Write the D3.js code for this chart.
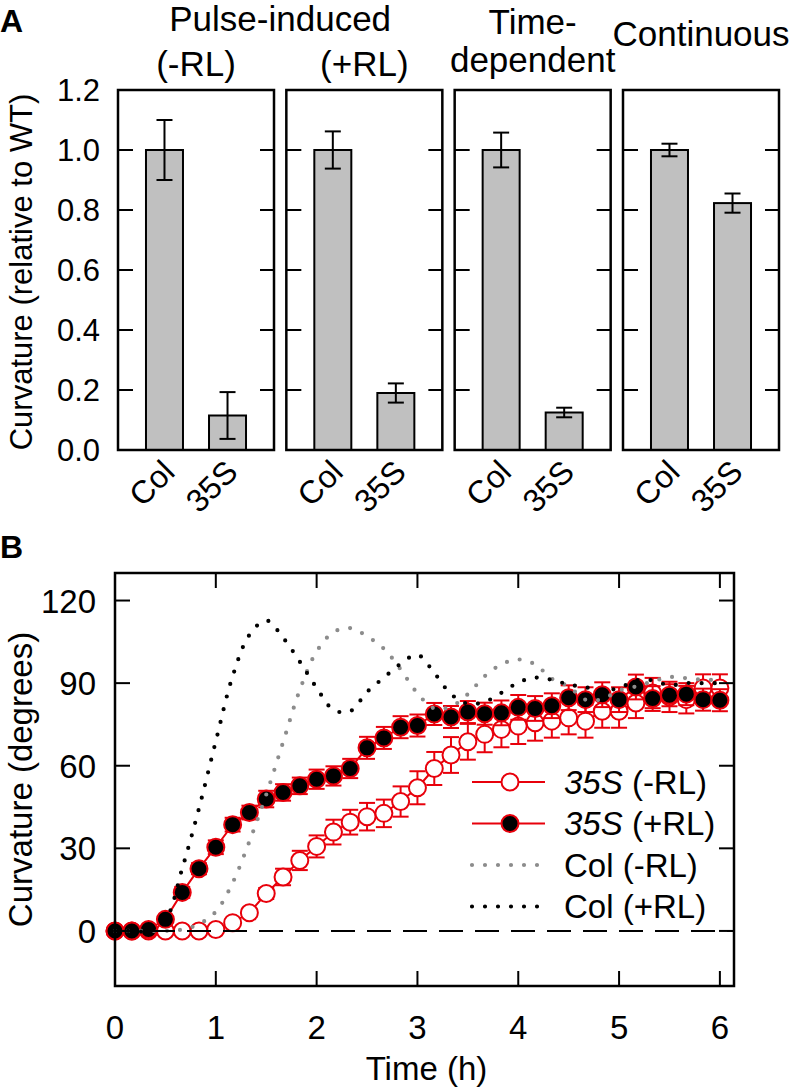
<!DOCTYPE html>
<html><head><meta charset="utf-8">
<script src="https://cdn.jsdelivr.net/npm/d3@7"></script>
<style>body{margin:0;background:#fff} text{font-family:"Liberation Sans",Arial,sans-serif;fill:#000}</style>
</head><body><svg id="c" width="797" height="1092"></svg>
<script>
// ---------- Panel A data ----------
const groups = ["Pulse-induced (-RL)", "Pulse-induced (+RL)", "Time-dependent", "Continuous"];
const genotypes = ["Col", "35S"];
const colMean = [1.0, 1.0, 1.0, 1.0];
const colErr = [0.10, 0.062, 0.058, 0.021];
const s35Mean = [0.115, 0.19, 0.125, 0.823];
const s35Err = [0.078, 0.032, 0.016, 0.032];
const yTicksA = [0.0, 0.2, 0.4, 0.6, 0.8, 1.0, 1.2];

// ---------- Panel B data ----------
const timeH = [0, 0.167, 0.333, 0.5, 0.667, 0.833, 1.0, 1.167, 1.333, 1.5, 1.667, 1.833, 2.0, 2.167, 2.333, 2.5, 2.667, 2.833, 3.0, 3.167, 3.333, 3.5, 3.667, 3.833, 4.0, 4.167, 4.333, 4.5, 4.667, 4.833, 5.0, 5.167, 5.333, 5.5, 5.667, 5.833, 6.0];
const s35MinusRL = [0, 0, 0, 0, 0, 0, 0.5, 3, 6.6, 13.6, 19.6, 25.6, 30.7, 35.9, 39.5, 41.5, 42.7, 47, 52, 59, 63.9, 68.7, 71.4, 73.2, 74.4, 75.6, 76.2, 77.4, 76.2, 79.8, 79.8, 82.8, 86.4, 85, 84, 88.2, 88.2];
const s35MinusRLErr = [0, 0, 0, 0, 0, 0, 0, 1, 1.5, 2, 3, 3.5, 4, 4.5, 4.5, 5, 5, 5.5, 6, 6, 6.5, 6.5, 6.5, 6.5, 6.5, 6.5, 6, 6, 6, 6, 6, 5.5, 5.5, 5.5, 5, 5, 5];
const s35PlusRL = [0, 0, 0.5, 4.2, 14, 22.6, 30.4, 38.6, 43, 47.9, 50.3, 52.7, 55.1, 56.3, 59, 66.5, 70.1, 74, 74.6, 78.8, 77.7, 79.5, 78.9, 79.2, 81.2, 80.8, 81.8, 84.7, 84, 85.8, 84, 88.6, 84.4, 85.6, 86, 84, 83.8];
const s35PlusRLErr = [0, 0, 0, 1, 2, 2, 2.5, 2.5, 2.5, 3, 3, 3, 3.5, 3.5, 3.5, 4, 4, 4, 4, 4, 4, 4, 4, 4.5, 4.5, 4.5, 4.5, 4.5, 4.5, 4.5, 4.5, 4.5, 4.5, 4, 4, 4, 4];
const colMinusRL = [0, 0, 0, 0, 0.5, 2.5, 7, 17.5, 32.5, 49.5, 68.5, 87.5, 101.5, 108.5, 110, 107, 102.5, 95, 86.3, 80.8, 81.5, 86, 92.5, 96.8, 98.6, 96.8, 91.6, 88.8, 84, 84.2, 87.3, 88.8, 90.6, 92.2, 91.8, 91.2, 91.2];
const colPlusRL = [0, 0, 0, 4, 22.7, 44.5, 68.9, 92.5, 107.5, 112.8, 106.5, 97.8, 88.3, 80.3, 79.8, 86.8, 92, 97, 100.3, 93.7, 86, 82.5, 83.2, 86.5, 90.2, 92, 91.2, 89.5, 88.5, 87.5, 88.2, 91, 91, 89.2, 90, 90, 90];
const xTicksB = [0, 1, 2, 3, 4, 5, 6];
const yTicksB = [0, 30, 60, 90, 120];
const legendLabels = [["35S", " (-RL)"], ["35S", " (+RL)"], ["Col (-RL)", ""], ["Col (+RL)", ""]];

const svg = d3.select("#c");
const FA = 31, FB = 33;

// ================= Panel A =================
const aTop = 90, aBottom = 450, panelW = 156;
const panelX = d3.scalePoint().domain(groups).range([118, 623]);
const yA = d3.scaleLinear().domain([0, 1.2]).range([aBottom, aTop]);
const xBand = d3.scaleBand().domain(genotypes).range([0, panelW]).paddingInner(0.413).paddingOuter(0.444);

groups.forEach((g, i) => {
  const gx = panelX(g);
  const p = svg.append("g").attr("transform", `translate(${gx},0)`);
  const vals = [{k: "Col", m: colMean[i], e: colErr[i]}, {k: "35S", m: s35Mean[i], e: s35Err[i]}];
  p.selectAll("rect.bar").data(vals).join("rect")
    .attr("x", d => xBand(d.k)).attr("width", xBand.bandwidth())
    .attr("y", d => yA(d.m)).attr("height", d => yA(0) - yA(d.m))
    .attr("fill", "#c0c0c0").attr("stroke", "#000").attr("stroke-width", 2);
  vals.forEach(d => {
    const cx = xBand(d.k) + xBand.bandwidth() / 2;
    p.append("line").attr("x1", cx).attr("x2", cx).attr("y1", yA(d.m + d.e)).attr("y2", yA(d.m - d.e)).attr("stroke", "#000").attr("stroke-width", 2);
    [d.m + d.e, d.m - d.e].forEach(v => p.append("line").attr("x1", cx - 8).attr("x2", cx + 8).attr("y1", yA(v)).attr("y2", yA(v)).attr("stroke", "#000").attr("stroke-width", 2));
    p.append("text").attr("text-anchor", "end").attr("font-size", 32)
      .attr("transform", `translate(${cx + 12},${aBottom + 24}) rotate(-45)`).text(d.k);
  });
  yTicksA.slice(1, -1).forEach(t => {
    p.append("line").attr("x1", 0).attr("x2", 15).attr("y1", yA(t)).attr("y2", yA(t)).attr("stroke", "#000").attr("stroke-width", 2);
    p.append("line").attr("x1", panelW - 14).attr("x2", panelW).attr("y1", yA(t)).attr("y2", yA(t)).attr("stroke", "#000").attr("stroke-width", 2);
  });
  p.append("rect").attr("x", 0).attr("y", aTop).attr("width", panelW).attr("height", aBottom - aTop)
    .attr("fill", "none").attr("stroke", "#000").attr("stroke-width", 2.5);
});
svg.selectAll("text.ya").data(yTicksA).join("text").attr("class", "ya")
  .attr("x", 100).attr("y", d => yA(d) + 11).attr("text-anchor", "end").attr("font-size", FA)
  .text(d => d3.format(".1f")(d));
svg.append("text").attr("transform", `translate(32,272) rotate(-90)`).attr("text-anchor", "middle").attr("font-size", FA)
  .text("Curvature (relative to WT)");
const pc = g => panelX(g) + panelW / 2;
const titleSpecs = [
  {t: "Pulse-induced", x: (pc(groups[0]) + pc(groups[1])) / 2, y: 31},
  {t: "(-RL)", x: pc(groups[0]), y: 76},
  {t: "(+RL)", x: pc(groups[1]), y: 76},
  {t: "Time-", x: pc(groups[2]), y: 34},
  {t: "dependent", x: pc(groups[2]), y: 72},
  {t: "Continuous", x: pc(groups[3]), y: 46}
];
svg.selectAll("text.ttl").data(titleSpecs).join("text").attr("class", "ttl")
  .attr("x", d => d.x).attr("y", d => d.y).attr("text-anchor", "middle").attr("font-size", 35).text(d => d.t);
svg.append("text").attr("x", 0).attr("y", 32).attr("font-size", 32).attr("font-weight", "bold").text("A");

// ================= Panel B =================
const bL = 115, bR = 734, bT = 573, bB = 986;
const xB = d3.scaleLinear().domain([0, 6.14]).range([bL, bR]);
const yB = d3.scaleLinear().domain([-20, 130]).range([bB, bT]);
const gB = svg.append("g");

const RED = "#e8000b";
function series(vals, errs, filled) {
  const data = timeH.map((t, i) => ({t, v: vals[i], e: errs[i]}));
  gB.append("path").datum(data).attr("fill", "none").attr("stroke", RED).attr("stroke-width", 2)
    .attr("d", d3.line().x(d => xB(d.t)).y(d => yB(d.v)));
  const eg = gB.append("g").attr("stroke", RED).attr("stroke-width", 2);
  data.filter(d => d.e > 0).forEach(d => {
    const cx = xB(d.t);
    eg.append("line").attr("x1", cx).attr("x2", cx).attr("y1", yB(d.v + d.e)).attr("y2", yB(d.v - d.e));
    [d.v + d.e, d.v - d.e].forEach(v => eg.append("line").attr("x1", cx - 8).attr("x2", cx + 8).attr("y1", yB(v)).attr("y2", yB(v)));
  });
  gB.append("g").selectAll("circle").data(data).join("circle")
    .attr("cx", d => xB(d.t)).attr("cy", d => yB(d.v)).attr("r", 8.5)
    .attr("fill", filled ? "#000" : "#fff").attr("stroke", RED).attr("stroke-width", 2);
}
series(s35MinusRL, s35MinusRLErr, false);
series(s35PlusRL, s35PlusRLErr, true);

function dotted(vals, color) {
  const data = timeH.map((t, i) => ({t, v: vals[i]}));
  gB.append("path").datum(data).attr("fill", "none").attr("stroke", color).attr("stroke-width", 4.2)
    .attr("stroke-linecap", "round").attr("stroke-dasharray", "0 13")
    .attr("d", d3.line().curve(d3.curveCatmullRom).x(d => xB(d.t)).y(d => yB(d.v)));
}
dotted(colMinusRL, "#8c8c8c");
dotted(colPlusRL, "#000");

gB.append("line").attr("x1", xB(0)).attr("x2", bR).attr("y1", yB(0)).attr("y2", yB(0))
  .attr("stroke", "#000").attr("stroke-width", 2).attr("stroke-dasharray", "24 12");

xTicksB.slice(1).forEach(t => {
  gB.append("line").attr("x1", xB(t)).attr("x2", xB(t)).attr("y1", bB).attr("y2", bB - 15).attr("stroke", "#000").attr("stroke-width", 2);
  gB.append("line").attr("x1", xB(t)).attr("x2", xB(t)).attr("y1", bT).attr("y2", bT + 15).attr("stroke", "#000").attr("stroke-width", 2);
});
yTicksB.forEach(t => {
  gB.append("line").attr("x1", bL).attr("x2", bL + 15).attr("y1", yB(t)).attr("y2", yB(t)).attr("stroke", "#000").attr("stroke-width", 2);
  gB.append("line").attr("x1", bR - 15).attr("x2", bR).attr("y1", yB(t)).attr("y2", yB(t)).attr("stroke", "#000").attr("stroke-width", 2);
});
gB.append("rect").attr("x", bL).attr("y", bT).attr("width", bR - bL).attr("height", bB - bT)
  .attr("fill", "none").attr("stroke", "#000").attr("stroke-width", 2.5);

svg.selectAll("text.xb").data(xTicksB).join("text").attr("class", "xb")
  .attr("x", d => xB(d)).attr("y", 1039).attr("text-anchor", "middle").attr("font-size", FB).text(d => d);
svg.selectAll("text.yb").data(yTicksB).join("text").attr("class", "yb")
  .attr("x", 96).attr("y", d => yB(d) + 12).attr("text-anchor", "end").attr("font-size", FB).text(d => d);
svg.append("text").attr("x", (bL + bR) / 2 + 2).attr("y", 1080).attr("text-anchor", "middle").attr("font-size", FB).text("Time (h)");
svg.append("text").attr("transform", `translate(32,${(bT + bB) / 2}) rotate(-90)`).attr("text-anchor", "middle").attr("font-size", FB)
  .text("Curvature (degrees)");
svg.append("text").attr("x", 0).attr("y", 558).attr("font-size", 32).attr("font-weight", "bold").text("B");

const legY = d3.scalePoint().domain(d3.range(legendLabels.length)).range([782, 906.5]);
legendLabels.forEach((lab, i) => {
  const y = legY(i);
  const lg = svg.append("g");
  if (i < 2) {
    lg.append("line").attr("x1", 472).attr("x2", 545).attr("y1", y).attr("y2", y).attr("stroke", RED).attr("stroke-width", 2);
    lg.append("circle").attr("cx", 510).attr("cy", y).attr("r", 8.5).attr("fill", i === 0 ? "#fff" : "#000").attr("stroke", RED).attr("stroke-width", 2);
  } else {
    lg.append("line").attr("x1", 472).attr("x2", 540).attr("y1", y).attr("y2", y)
      .attr("stroke", i === 2 ? "#8c8c8c" : "#000").attr("stroke-width", 4.2).attr("stroke-linecap", "round").attr("stroke-dasharray", "0 13");
  }
  const tx = lg.append("text").attr("x", 564).attr("y", y + 11.5).attr("font-size", FB);
  if (lab[1]) {
    tx.append("tspan").attr("font-style", "italic").text(lab[0]);
    tx.append("tspan").text(lab[1]);
  } else tx.text(lab[0]);
});
</script></body></html>
